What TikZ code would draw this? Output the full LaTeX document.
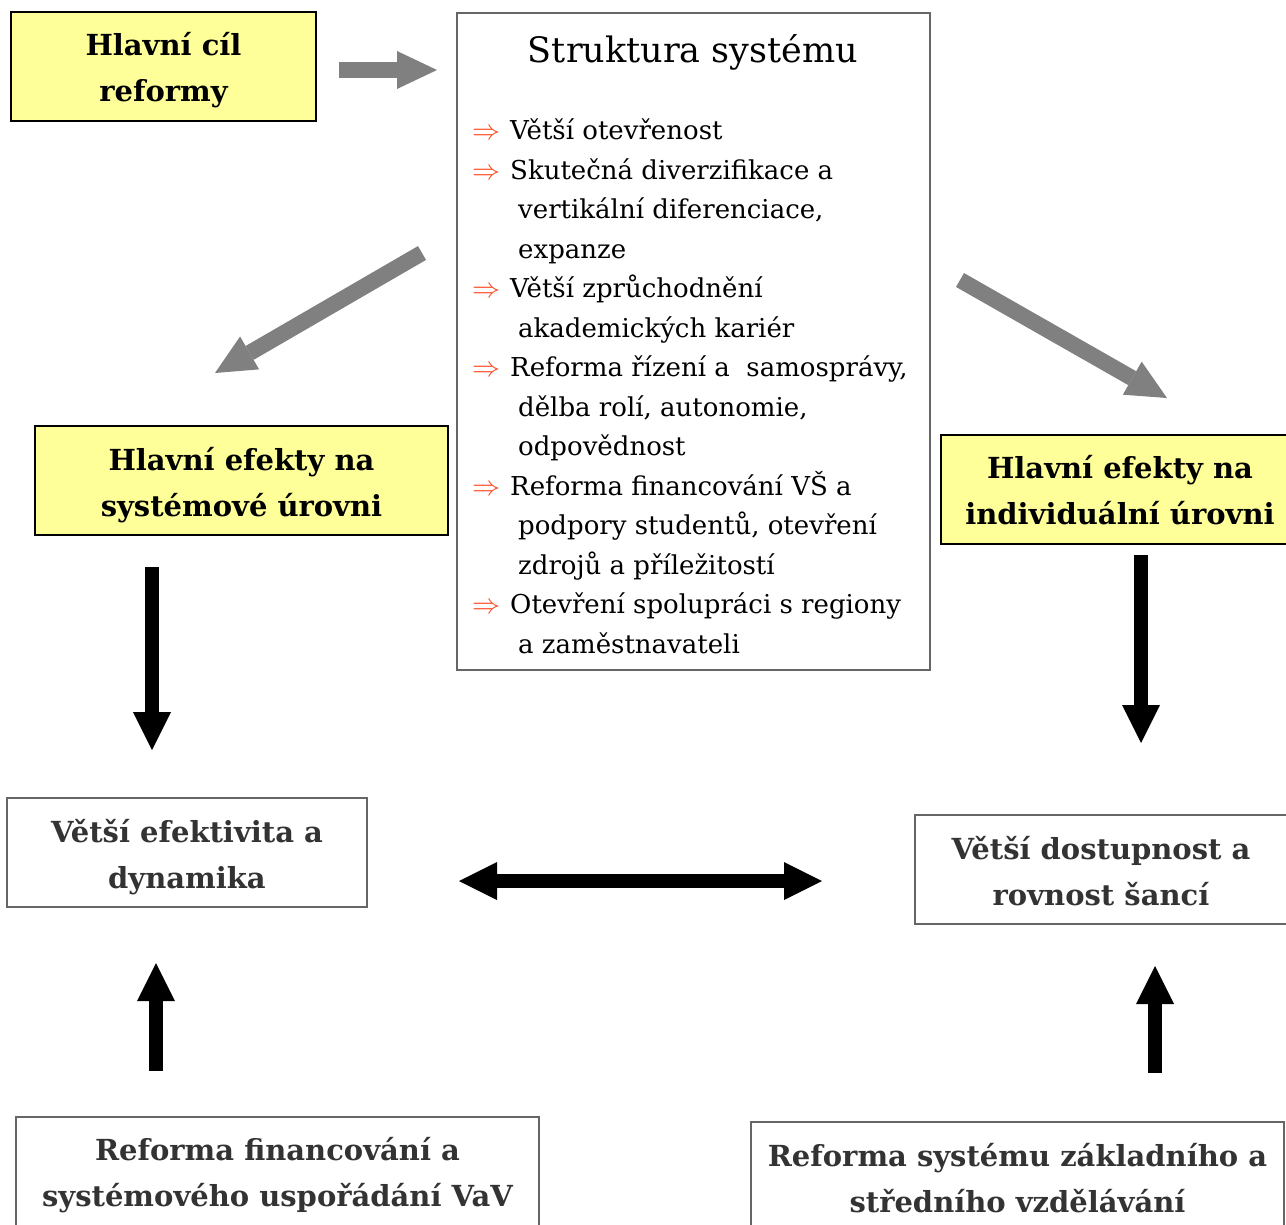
\documentclass[tikz,border=0pt]{standalone}
\usepackage{fontspec}
\usepackage{graphicx}
\setmainfont{DejaVu Serif}
\usetikzlibrary{arrows.meta}
\definecolor{boxyellow}{HTML}{FFFF99}
\definecolor{arrowgray}{HTML}{808080}
\definecolor{boxgray}{HTML}{666666}
\definecolor{textgray}{HTML}{333333}
\definecolor{listred}{RGB}{255,70,30}
\newcommand\larr{\makebox[38pt][l]{\textcolor{listred}{\resizebox{28pt}{!}{$\Rightarrow$}}}}
\newcommand\lind{\hspace*{46pt}}
\begin{document}
\begin{tikzpicture}[x=1pt,y=-1pt,
  ybox/.style={draw=black, fill=boxyellow, line width=1.3pt, inner sep=0pt},
  wbox/.style={draw=boxgray, fill=white, line width=1.6pt, inner sep=0pt},
  htext/.style={inner sep=0pt, align=center, font=\fontsize{29}{46}\selectfont\bfseries},
  gtext/.style={htext, text=textgray},
  grayarrow/.style={draw=arrowgray, line width=16pt, -{Triangle[length=40pt,width=38pt,line width=0pt]}},
  blackarrow/.style={draw=black, line width=14pt, -{Triangle[length=38pt,width=38pt,line width=0pt]}},
  dblarrow/.style={draw=black, line width=14pt, {Triangle[length=38pt,width=38pt,line width=0pt]}-{Triangle[length=38pt,width=38pt,line width=0pt]}}
]
\useasboundingbox (0,0) rectangle (1286,1225);
\clip (0,0) rectangle (1286,1225);
\fill[white] (0,0) rectangle (1286,1225);

% boxes
\node[ybox, minimum width=305pt, minimum height=109pt] (goal) at (163.5,66.5) {};
\node[htext] (goalt) at ([yshift=-4pt]goal.center) {Hlavní cíl\\reformy};

\node[wbox, minimum width=473pt, minimum height=657pt] (struct) at (693.5,341.5) {};
\node[anchor=base, font=\fontsize{35}{40}\selectfont] (title) at (693,63) {Struktura systému};
\node[anchor=north west, align=left, inner sep=0pt, font=\fontsize{26}{39.5}\selectfont] (list) at (472,119) {%
\larr Větší otevřenost\\
\larr Skutečná diverzifikace a\\
\lind vertikální diferenciace,\\
\lind expanze\\
\larr Větší zprůchodnění\\
\lind akademických kariér\\
\larr Reforma řízení a\ \ samosprávy,\\
\lind dělba rolí, autonomie,\\
\lind odpovědnost\\
\larr Reforma financování VŠ a\\
\lind podpory studentů, otevření\\
\lind zdrojů a příležitostí\\
\larr Otevření spolupráci s regiony\\
\lind a zaměstnavateli};

\node[ybox, minimum width=413pt, minimum height=109pt] (sys) at (241.5,480.5) {};
\node[htext] (syst) at ([yshift=-5pt]sys.center) {Hlavní efekty na\\systémové úrovni};
\node[ybox, minimum width=358pt, minimum height=109pt] (ind) at (1120,489.5) {};
\node[htext] (indt) at ([yshift=-1pt]ind.center) {Hlavní efekty na\\individuální úrovni};
\node[wbox, minimum width=360pt, minimum height=109pt] (eff) at (187,852.5) {};
\node[gtext] (efft) at ([yshift=-5pt]eff.center) {Větší efektivita a\\dynamika};
\node[wbox, minimum width=372pt, minimum height=109pt] (dost) at (1101,869.5) {};
\node[gtext] (dostt) at ([yshift=-2pt]dost.center) {Větší dostupnost a\\rovnost šancí};
\node[wbox, minimum width=523pt, minimum height=113pt] (vav) at (277.5,1173.5) {};
\node[gtext] (vavt) at ([yshift=-2pt]vav.center) {Reforma financování a\\systémového uspořádání VaV};
\node[wbox, minimum width=533pt, minimum height=113pt] (zs) at (1017.5,1178.5) {};
\node[gtext] (zst) at (zs.center) {Reforma systému základního a\\středního vzdělávání};

% arrow end points
\coordinate (g1) at (339,70);   \coordinate (g2) at (437,70);
\coordinate (l1) at (422,253);  \coordinate (l2) at (215,373);
\coordinate (r1) at (960,280);  \coordinate (r2) at (1167,398);
\coordinate (sd1) at (152,567); \coordinate (sd2) at (152,750);
\coordinate (id1) at (1141,555); \coordinate (id2) at (1141,743);
\coordinate (h1) at (459,881);  \coordinate (h2) at (822,881);
\coordinate (lu1) at (156,1071); \coordinate (lu2) at (156,963);
\coordinate (ru1) at (1155,1073); \coordinate (ru2) at (1155,966);

\draw[grayarrow] (g1) -- (g2);
\draw[grayarrow] (l1) -- (l2);
\draw[grayarrow] (r1) -- (r2);
\draw[blackarrow] (sd1) -- (sd2);
\draw[blackarrow] (id1) -- (id2);
\draw[dblarrow] (h1) -- (h2);
\draw[blackarrow] (lu1) -- (lu2);
\draw[blackarrow] (ru1) -- (ru2);
\end{tikzpicture}
\end{document}
